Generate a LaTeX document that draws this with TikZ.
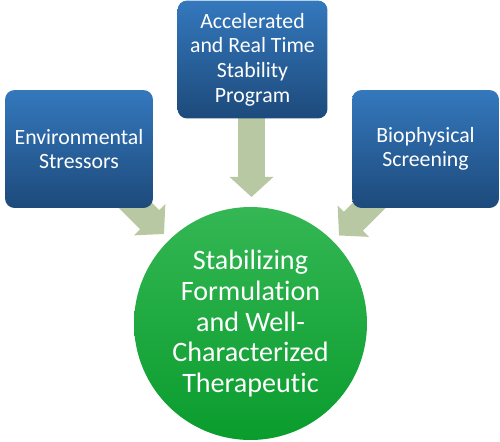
\documentclass[tikz,border=0pt]{standalone}
\usepackage{fontspec}
\setmainfont{Carlito}[Ligatures=NoCommon]
\usepackage{xcolor}
\usetikzlibrary{positioning, arrows.meta, backgrounds}
\definecolor{boxtop}{HTML}{3478BD}
\definecolor{boxbot}{HTML}{1D4A7B}
\definecolor{circtop}{HTML}{34B754}
\definecolor{circbot}{HTML}{0A9C2D}
\definecolor{flow}{HTML}{B7C8A2}

\begin{document}
\begin{tikzpicture}[x=0.02cm, y=0.02cm,
    box/.style={rounded corners=5.5pt, top color=boxtop, bottom color=boxbot,
        text=white, align=center, inner sep=0pt,
        font=\fontsize{12.4}{14}\selectfont},
    core/.style={circle, top color=circtop, bottom color=circbot,
        text=white, align=center, inner sep=0pt, minimum size=4.66cm,
        font=\fontsize{16}{17.4}\selectfont},
    flowline/.style={flow, line width=15.3pt,
        -{Triangle[length=11.5pt, width=24.5pt]}}]
\useasboundingbox (0,0) rectangle (500,441);
% Input boxes
\foreach \name/\pos/\boxw/\txt in {
    env/{(79,292)}/2.96cm/{Environmental\\Stressors},
    stab/{(252.5,381.5)}/3.0cm/{Accelerated\\and Real Time\\Stability\\Program},
    bio/{(425.5,292)}/2.94cm/{Biophysical\\Screening}}{
    \node[box, minimum width=\boxw, minimum height=2.36cm] (\name) at \pos {\txt};
}
% Target
\node[core] (target) at (250.5,117.5)
    {Stabilizing\\Formulation\\and Well-\\Characterized\\Therapeutic};
% Arrow tips
\coordinate (tipL) at (164,207);
\coordinate (tipT) at (251.5,244);
\coordinate (tipR) at (339,205.5);
% Block arrows behind the boxes
\begin{scope}[on background layer]
    \draw[flowline] (env.center) -- (tipL);
    \draw[flowline] (stab.center -| tipT) -- (tipT);
    \draw[flowline] (bio.center) -- (tipR);
\end{scope}
\end{tikzpicture}
\end{document}
